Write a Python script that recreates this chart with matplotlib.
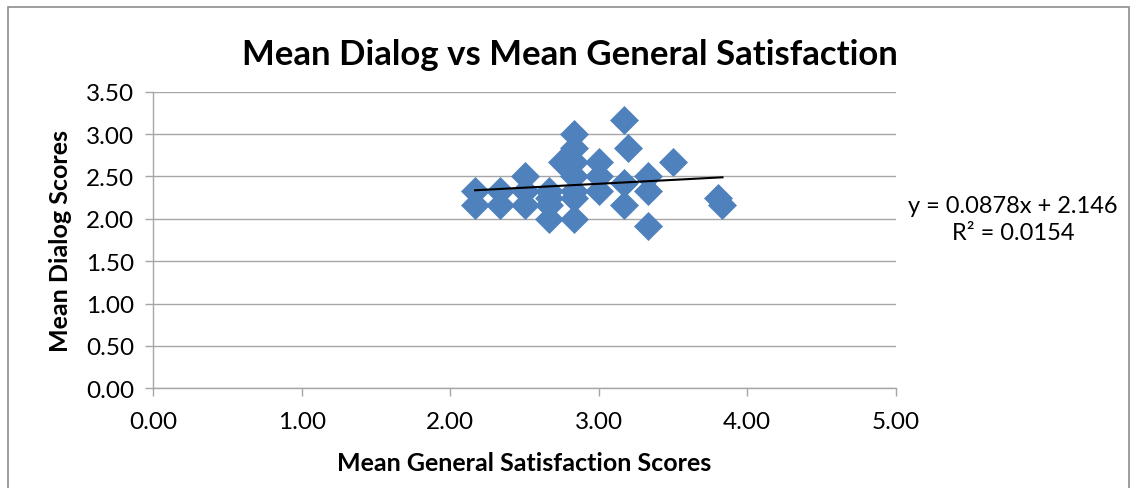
import matplotlib
matplotlib.use("Agg")
import matplotlib.pyplot as plt
from matplotlib.patches import Rectangle
import numpy as np

plt.rcParams["font.family"] = ["Lato", "DejaVu Sans"]

# Mean General Satisfaction (x) vs Mean Dialog (y)
gen_sat = [2.167, 2.167,
           2.333, 2.333,
           2.5, 2.5, 2.5,
           2.667, 2.667, 2.667, 2.667,
           2.75,
           2.833, 2.833, 2.833, 2.833, 2.833, 2.833, 2.833,
           3.0, 3.0, 3.0,
           3.167, 3.2, 3.167, 3.167,
           3.333, 3.333, 3.333,
           3.5,
           3.8, 3.833]
dialog = [2.333, 2.167,
          2.333, 2.167,
          2.5, 2.333, 2.167,
          2.333, 2.25, 2.167, 2.0,
          2.667,
          3.0, 2.833, 2.667, 2.5, 2.333, 2.25, 2.0,
          2.667, 2.5, 2.333,
          3.167, 2.833, 2.417, 2.167,
          2.5, 2.333, 1.917,
          2.667,
          2.25, 2.167]

x_ticks = [0, 1, 2, 3, 4, 5]
y_ticks = [0, 0.5, 1.0, 1.5, 2.0, 2.5, 3.0, 3.5]
trend_label = "y = 0.0878x + 2.146\nR² = 0.0154"

blue = "#4F81BD"
grid_grey = "#A6A6A6"

fig = plt.figure(figsize=(11.35, 4.89), dpi=100)
ax = fig.add_axes([0.1351, 0.2039, 0.6541, 0.6065])

ax.plot(gen_sat, dialog, "D", color=blue, markersize=14,
        markeredgecolor=blue, markeredgewidth=0.5, zorder=3)

# linear trendline over the data range
xs = np.array(gen_sat)
slope, intercept = np.polyfit(xs, dialog, 1)
line_x = np.array([xs.min(), xs.max()])
ax.plot(line_x, slope * line_x + intercept, color="black", linewidth=1.5, zorder=4)

ax.set_xlim(0, 5)
ax.set_ylim(0, 3.5)
ax.set_xticks(x_ticks)
ax.set_yticks(y_ticks)
ax.xaxis.set_major_formatter(plt.FormatStrFormatter("%.2f"))
ax.yaxis.set_major_formatter(plt.FormatStrFormatter("%.2f"))
ax.tick_params(labelsize=17.5, colors=grid_grey, labelcolor="black",
               length=6, width=1, direction="out")
ax.tick_params(axis="y", pad=8)
ax.tick_params(axis="x", pad=10)
ax.yaxis.grid(True, color=grid_grey, linewidth=1)
ax.set_axisbelow(True)
for side in ("top", "right"):
    ax.spines[side].set_visible(False)
for side in ("left", "bottom"):
    ax.spines[side].set_color(grid_grey)
    ax.spines[side].set_linewidth(1)

fig.text(0.502, 0.8875, "Mean Dialog vs Mean General Satisfaction",
         ha="center", va="center", fontsize=25, fontweight="bold")
fig.text(0.4621, 0.053, "Mean General Satisfaction Scores",
         ha="center", va="center", fontsize=18, fontweight="bold")
fig.text(0.053, 0.507, "Mean Dialog Scores", rotation=90,
         ha="center", va="center", fontsize=18, fontweight="bold")
fig.text(0.8925, 0.55, trend_label, ha="center", va="center",
         fontsize=17, linespacing=1.3)

# chart frame
fig.patches.append(Rectangle((7.5 / 1135, -0.1), 1121.5 / 1135, 1.1 - 8 / 489,
                             transform=fig.transFigure, fill=False,
                             edgecolor="#8C8C8C", linewidth=1.2))

fig.savefig("out.png", dpi=100)
